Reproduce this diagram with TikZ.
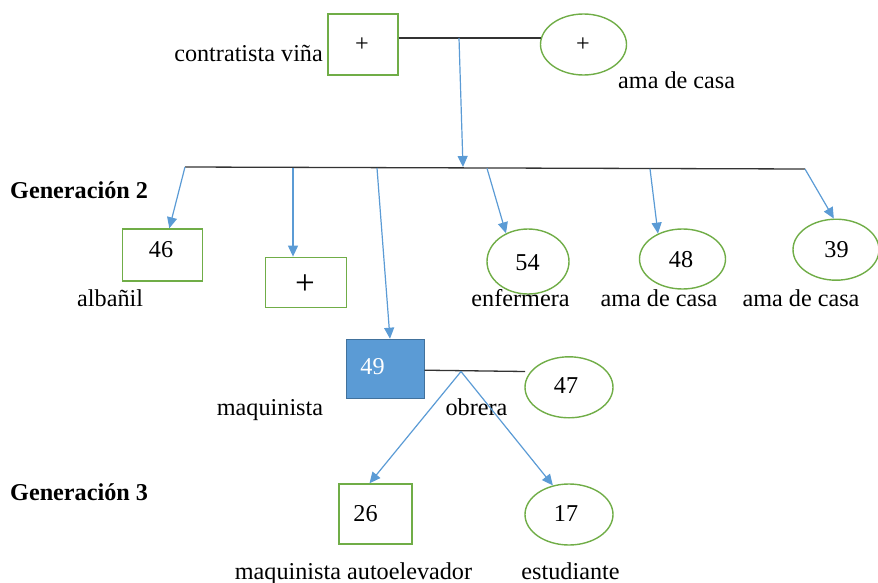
\documentclass[tikz,border=0pt]{standalone}
\usepackage{fontspec}
\setmainfont{Liberation Serif}
\usetikzlibrary{arrows.meta,shapes.geometric}
\definecolor{lgreen}{RGB}{112,173,71}
\definecolor{lblue}{RGB}{91,155,213}
\definecolor{dblue}{RGB}{65,113,156}
\begin{document}
\begin{tikzpicture}[x=1pt,y=-1pt,
  every node/.style={font=\fontsize{24.2}{28}\selectfont, inner sep=0pt},
  malebox/.style={draw=lgreen, line width=1.4pt, rectangle, inner sep=0pt},
  femell/.style={draw=lgreen, line width=1.4pt, ellipse, inner sep=0pt},
  couple/.style={draw=black!80, line width=1.3pt},
  arr/.style={draw=lblue, line width=1.2pt, -{Triangle[length=11pt,width=10pt]}},
  lbl/.style={anchor=base}
]
\useasboundingbox (0,0) rectangle (878,583);
% generation 1
\node[malebox, minimum width=70pt, minimum height=61pt] (nf) at (363,44.5) {};
\node (tf) at (362,45) {+};
\node[femell, minimum width=86pt, minimum height=61pt] (nm) at (583.5,44.5) {};
\node (tm) at (583,45) {+};
\node[lbl, anchor=base east] (lcv) at (323,62) {contratista viña};
\node[lbl, anchor=base west] (lac) at (618,89) {ama de casa};
\coordinate (c1) at (540.5,38);
\draw[couple] ([yshift=6.5pt]nf.east) -- (c1);
\coordinate (d1) at (459,38);
\coordinate (d2) at (463,167);
\draw[arr] (d1) -- (d2);
% sibling line
\coordinate (s0) at (185,167);
\coordinate (s5) at (805,169);
\draw[couple] (s0) -- (s5);
\coordinate (s1) at (293,167.7);
\coordinate (s2) at (377,168);
\coordinate (s3) at (487,168.3);
\coordinate (s4) at (650,168.8);
\node[lbl, anchor=base west, font=\fontsize{24.2}{28}\selectfont\bfseries] (g2) at (10,198) {Generación 2};
% generation 2
\node[malebox, minimum width=80pt, minimum height=52pt] (n46) at (162.5,255) {};
\node (t46) at (161,250) {46};
\node[lbl, anchor=base west] (l46) at (77,306) {albañil};
\node[malebox, minimum width=81pt, minimum height=50pt] (np) at (306,282.3) {};
\node[font=\fontsize{35}{40}\selectfont] (tp) at (305,285) {+};
\node[femell, minimum width=82pt, minimum height=65pt] (n54) at (528,261.5) {};
\node (t54) at (527.5,262.5) {54};
\node[lbl] (l54) at (520.5,306.5) {enfermera};
\node[femell, minimum width=86pt, minimum height=60pt] (n48) at (682.5,259) {};
\node (t48) at (681,259.5) {48};
\node[lbl] (l48) at (659,306.5) {ama de casa};
\node[femell, minimum width=86pt, minimum height=61pt] (n39) at (836,249.7) {};
\node (t39) at (836.5,249.5) {39};
\node[lbl] (l39) at (801,306.5) {ama de casa};
% couple 2
\node[draw=dblue, fill=lblue, line width=1pt, rectangle, minimum width=78pt, minimum height=59pt] (n49) at (385,368.7) {};
\node[text=white] (t49) at (372.5,366.5) {49};
\node[lbl] (l49) at (270,415) {maquinista};
\node[femell, minimum width=88pt, minimum height=61pt] (n47) at (569,387.3) {};
\node (t47) at (566,386) {47};
\node[lbl] (l47) at (476.5,415) {obrera};
\coordinate (c2) at (525,371.5);
\draw[couple] ([yshift=-1.5pt]n49.east) -- (c2);
\coordinate (d3) at (461,371.5);
\draw[arr] (s0) -- (n46);
\draw[arr] (s1) -- (s1 |- np.north);
\draw[arr] (s2) -- ([xshift=5pt]n49.north);
\draw[arr] (s3) -- (n54.128);
\draw[arr] (s4) -- (n48.134);
\draw[arr] (s5) -- (n39.94);
% generation 3
\node[lbl, anchor=base west, font=\fontsize{24.2}{28}\selectfont\bfseries] (g3) at (10,500) {Generación 3};
\node[malebox, minimum width=73pt, minimum height=60pt] (n26) at (375.5,514) {};
\node (t26) at (365.5,513.5) {26};
\node[lbl] (l26) at (353.5,579) {maquinista autoelevador};
\node[femell, minimum width=88pt, minimum height=61pt] (n17) at (569,514.5) {};
\node (t17) at (566,514) {17};
\node[lbl] (l17) at (570.5,579) {estudiante};
\draw[arr] (d3) -- ([xshift=-6pt]n26.north);
\draw[arr] (d3) -- (n17.119);
\end{tikzpicture}
\end{document}
